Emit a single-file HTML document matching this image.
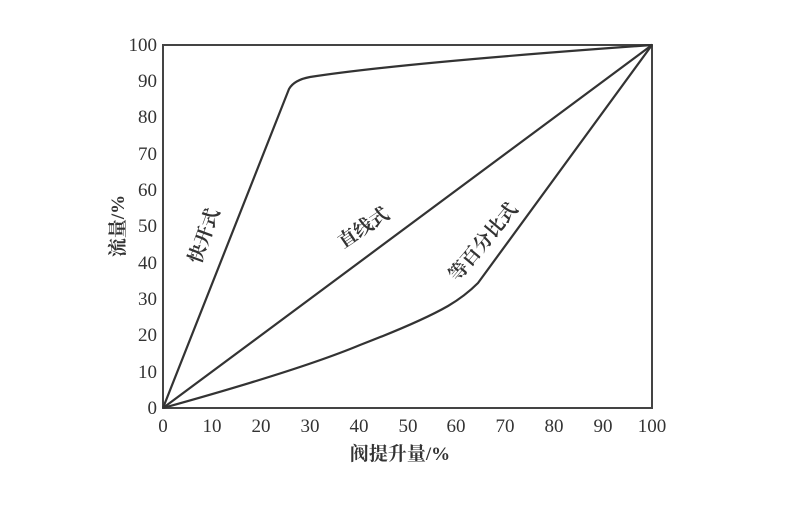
<!DOCTYPE html>
<html><head><meta charset="utf-8"><style>
body{margin:0;background:#fff;}
svg text{font-family:"Liberation Serif","Noto Serif CJK SC",serif;fill:#333;}
</style></head><body>
<svg width="800" height="500" xmlns="http://www.w3.org/2000/svg">
<rect x="163" y="45" width="489" height="363" fill="none" stroke="#444" stroke-width="2"/>
<g font-size="19" text-anchor="end">
<text x="157" y="414">0</text><text x="157" y="378">10</text><text x="157" y="341">20</text><text x="157" y="305">30</text><text x="157" y="269">40</text><text x="157" y="232">50</text><text x="157" y="196">60</text><text x="157" y="160">70</text><text x="157" y="123">80</text><text x="157" y="87">90</text><text x="157" y="51">100</text>
</g>
<g font-size="19" text-anchor="middle">
<text x="163" y="432">0</text><text x="212" y="432">10</text><text x="261" y="432">20</text><text x="310" y="432">30</text><text x="359" y="432">40</text><text x="408" y="432">50</text><text x="456" y="432">60</text><text x="505" y="432">70</text><text x="554" y="432">80</text><text x="603" y="432">90</text><text x="652" y="432">100</text>
</g>
<text x="400" y="460" font-size="19" font-weight="bold" text-anchor="middle">阀提升量/%</text>
<text transform="translate(124,226) rotate(-90)" font-size="19" font-weight="bold" text-anchor="middle">流量/%</text>
<g fill="none" stroke="#333" stroke-width="2.2" stroke-linejoin="round">
<path d="M163,408 L289,89 Q294,80 310,77 Q400,63 652,45"/>
<path d="M163,408 L652,45"/>
<path d="M163,408 Q300,370 360,345 Q420,322 448,306 Q465,296 478,283 L652,45"/>
</g>
<text transform="translate(210,238) rotate(-70)" font-size="19" font-weight="bold" text-anchor="middle">快开式</text>
<text transform="translate(367,233) rotate(-34)" font-size="19" font-weight="bold" text-anchor="middle">直线式</text>
<text transform="translate(488,246) rotate(-50)" font-size="19" font-weight="bold" text-anchor="middle">等百分比式</text>
</svg>
</body></html>
